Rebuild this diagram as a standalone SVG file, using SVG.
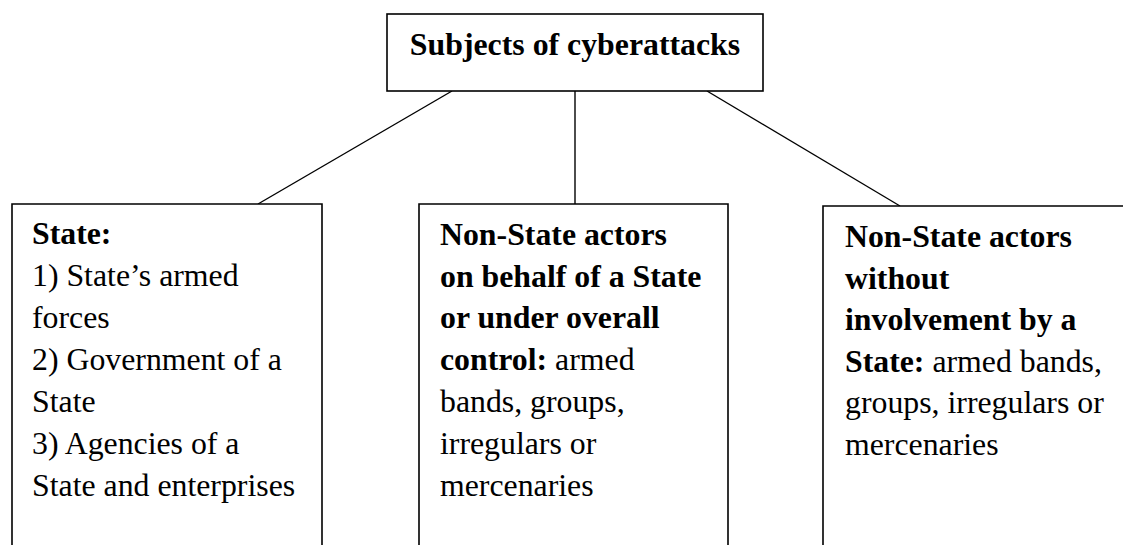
<svg xmlns="http://www.w3.org/2000/svg" width="1123" height="545" viewBox="0 0 1123 545">
<style>
.box{fill:#fff;stroke:#000;stroke-width:1.6}
.ln{stroke:#000;stroke-width:1.4;fill:none}
text{font-family:"Liberation Serif","Times New Roman",serif;font-size:31.8px;fill:#000}
.b{font-weight:bold}
</style>
<rect width="1123" height="545" fill="#fff"/>
<g id="connectors">
<line class="ln" x1="452" y1="91" x2="258" y2="204"/>
<line class="ln" x1="575" y1="91" x2="575" y2="204"/>
<line class="ln" x1="707" y1="91" x2="900" y2="206"/>
</g>
<g id="root">
<rect class="box" x="387" y="14" width="376" height="77"/>
<text class="b" x="575" y="55" text-anchor="middle">Subjects of cyberattacks</text>
</g>
<g id="state">
<path class="box" d="M12 560 V204 H322 V560"/>
<text x="32" y="244" class="b">State:</text>
<text x="32" y="286">1) State’s armed</text>
<text x="32" y="328">forces</text>
<text x="32" y="370">2) Government of a</text>
<text x="32" y="412">State</text>
<text x="32" y="454">3) Agencies of a</text>
<text x="32" y="496">State and enterprises</text>
</g>
<g id="nonstate-behalf">
<path class="box" d="M419 560 V204 H728 V560"/>
<text x="440" y="245" class="b">Non-State actors</text>
<text x="440" y="287" class="b">on behalf of a State</text>
<text x="440" y="328" class="b">or under overall</text>
<text x="440" y="370"><tspan class="b">control:</tspan> armed</text>
<text x="440" y="412">bands, groups,</text>
<text x="440" y="454">irregulars or</text>
<text x="440" y="496">mercenaries</text>
</g>
<g id="nonstate-without">
<path class="box" d="M823 560 V206 H1135 V560"/>
<text x="845" y="247" class="b">Non-State actors</text>
<text x="845" y="289" class="b">without</text>
<text x="845" y="330" class="b">involvement by a</text>
<text x="845" y="372"><tspan class="b">State:</tspan> armed bands,</text>
<text x="845" y="413">groups, irregulars or</text>
<text x="845" y="455">mercenaries</text>
</g>
</svg>
